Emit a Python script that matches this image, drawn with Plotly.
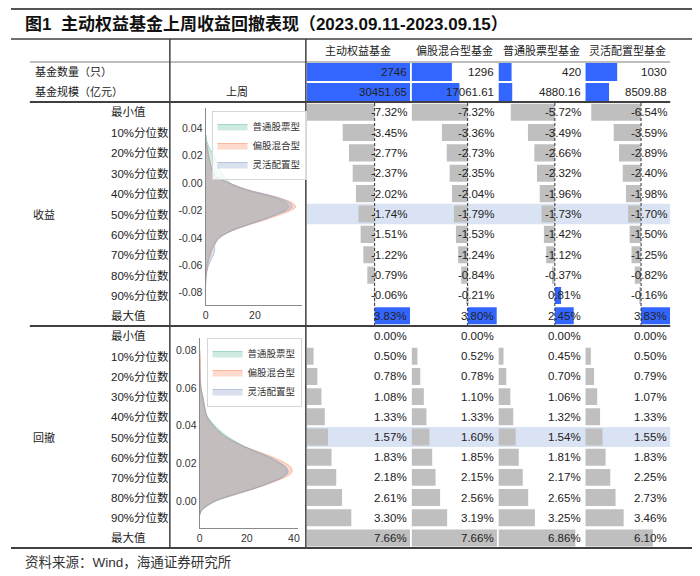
import plotly.graph_objects as go

# the page puts the figure 8px from the window's top-left corner
OFF = 8
W, H = 692, 568

# ---------------- data ----------------
funds = ['主动权益基金', '偏股混合型基金', '普通股票型基金', '灵活配置型基金']
fund_count = [2746, 1296, 420, 1030]
fund_size = [30451.65, 17061.61, 4880.16, 8509.88]
stat_rows = ['最小值', '10%分位数', '20%分位数', '30%分位数', '40%分位数', '50%分位数',
             '60%分位数', '70%分位数', '80%分位数', '90%分位数', '最大值']

ret_active = [-7.32, -3.45, -2.77, -2.37, -2.02, -1.74, -1.51, -1.22, -0.79, -0.06, 3.83]
ret_mixed = [-7.32, -3.36, -2.73, -2.35, -2.04, -1.79, -1.53, -1.24, -0.84, -0.21, 3.80]
ret_stock = [-5.72, -3.49, -2.66, -2.32, -1.96, -1.73, -1.42, -1.12, -0.37, 0.81, 2.45]
ret_flex = [-6.54, -3.59, -2.89, -2.40, -1.98, -1.70, -1.50, -1.25, -0.82, -0.16, 3.83]

dd_active = [0.00, 0.50, 0.78, 1.08, 1.33, 1.57, 1.83, 2.18, 2.61, 3.30, 7.66]
dd_mixed = [0.00, 0.52, 0.78, 1.10, 1.33, 1.60, 1.85, 2.15, 2.56, 3.19, 7.66]
dd_stock = [0.00, 0.45, 0.70, 1.06, 1.32, 1.54, 1.81, 2.17, 2.65, 3.25, 6.86]
dd_flex = [0.00, 0.50, 0.79, 1.07, 1.33, 1.55, 1.83, 2.25, 2.73, 3.46, 6.10]

kde_names = ['普通股票型', '偏股混合型', '灵活配置型']

ret_grid = [0.035, 0.03, 0.025, 0.02, 0.015, 0.01, 0.005, 0.0, -0.005, -0.0075, -0.01,
            -0.0125, -0.015, -0.0175, -0.02, -0.0225, -0.025, -0.0275, -0.03, -0.035,
            -0.04, -0.045, -0.05, -0.055, -0.06, -0.065, -0.07, -0.075]
ret_kde_stock = [0.2, 0.6, 1.7, 3.2, 4.5, 5.6, 7.6, 10.0, 16.0, 21.0, 26.5, 30.5, 33.0,
                 33.5, 32.0, 29.0, 25.5, 21.5, 17.5, 10.0, 5.2, 3.2, 2.0, 1.2, 0.6, 0.3, 0.1, 0.0]
ret_kde_mixed = [0.0, 0.2, 0.8, 1.2, 1.8, 2.5, 4.0, 9.5, 17.0, 22.5, 28.0, 32.5, 35.5,
                 36.5, 34.5, 31.0, 27.0, 23.0, 18.5, 10.5, 5.5, 3.5, 2.4, 1.5, 0.9, 0.4, 0.1, 0.0]
ret_kde_flex = [0.0, 0.2, 0.8, 1.2, 1.8, 2.6, 4.2, 9.5, 17.0, 22.5, 28.0, 32.0, 34.5,
                35.0, 33.0, 29.5, 26.0, 22.0, 18.0, 10.5, 5.8, 3.8, 3.6, 2.5, 1.2, 0.5, 0.1, 0.0]

dd_grid = [-0.0075, -0.005, -0.0025, 0.0, 0.0025, 0.005, 0.0075, 0.01, 0.0125, 0.015,
           0.0175, 0.02, 0.0225, 0.025, 0.0275, 0.03, 0.035, 0.04, 0.045, 0.05, 0.055,
           0.06, 0.065, 0.07, 0.075, 0.08]
dd_kde_stock = [0.0, 1.0, 3.5, 7.0, 13.0, 19.5, 25.5, 30.5, 35.0, 37.0, 36.5, 34.0, 30.5,
                26.0, 21.5, 17.5, 11.0, 6.5, 3.2, 2.0, 1.3, 0.5, 0.2, 0.1, 0.0, 0.0]
dd_kde_mixed = [0.0, 0.8, 3.0, 6.5, 12.5, 19.0, 25.5, 31.0, 36.0, 39.0, 39.0, 36.5, 32.5,
                27.5, 22.0, 17.0, 10.0, 5.5, 3.0, 2.0, 1.3, 0.6, 0.4, 0.3, 0.3, 0.1]
dd_kde_flex = [0.0, 0.8, 3.0, 6.5, 12.0, 18.5, 25.0, 30.5, 35.0, 37.5, 37.0, 34.5, 31.0,
               26.5, 21.5, 17.0, 10.0, 6.0, 3.2, 2.2, 1.5, 0.6, 0.2, 0.1, 0.0, 0.0]

ret_ticks = [0.04, 0.02, 0.00, -0.02, -0.04, -0.06, -0.08]
dd_ticks = [0.08, 0.06, 0.04, 0.02, 0.00]
ret_xticks = [0, 20]
dd_xticks = [0, 20, 40]

# ---------------- style ----------------
FONT = 'Liberation Sans, Noto Sans CJK SC'
BLUE = '#3366ff'
GRAY = '#bfbfbf'
BAND = '#dae3f3'
LINE = '#404040'
TXT = '#222222'
KDE_COLORS = [(102, 194, 165), (252, 141, 98), (141, 160, 203)]

COLS = [(306, 410), (411.5, 497.5), (499, 585.5), (586.5, 672)]
SECT = {'count': (62, 82), 'size': (82, 102), 'ret': (102, 326), 'dd': (326, 548)}


def px(x):
    return (x - OFF) / W


def py(y):
    return 1 - (y - OFF) / H


def xd(a, b):
    return [px(a), px(b)]


def yd(top, bottom):
    return [py(bottom), py(top)]


def ax(k):
    return ('x' if k == 1 else f'x{k}'), ('y' if k == 1 else f'y{k}')


def lk(k):
    return ('xaxis' if k == 1 else f'xaxis{k}'), ('yaxis' if k == 1 else f'yaxis{k}')


fig = go.Figure()
layout = {}
annotations = []
shapes = []

ret_cols = [ret_active, ret_mixed, ret_stock, ret_flex]
dd_cols = [dd_active, dd_mixed, dd_stock, dd_flex]
ret_all = ret_active + ret_mixed + ret_stock + ret_flex
dd_all = dd_active + dd_mixed + dd_stock + dd_flex

sections = ['count', 'size', 'ret', 'dd']
first_axis = {}
k = 0
for sec in sections:
    for c in range(4):
        k += 1
        xn, yn = ax(k)
        xl, yl = lk(k)
        if c == 0:
            first_axis[sec] = k
        top, bot = SECT[sec]
        if sec == 'count':
            cats = ['基金数量（只）']
            vals = [fund_count[c]]
            rng = [0, max(fund_count)]
            colors = [BLUE]
            labels = [f'{v:d}' for v in vals]
            bw = 0.9
        elif sec == 'size':
            cats = ['基金规模（亿元）']
            vals = [fund_size[c]]
            rng = [0, max(fund_size)]
            colors = [BLUE]
            labels = [f'{v:.2f}' for v in vals]
            bw = 0.9
        elif sec == 'ret':
            cats = stat_rows
            vals = ret_cols[c]
            rng = [min(ret_all), max(ret_all)]
            colors = [BLUE if v > 0 else GRAY for v in vals]
            labels = [f'{v:.2f}%' for v in vals]
            bw = 0.84
        else:
            cats = stat_rows
            vals = dd_cols[c]
            rng = [0, max(dd_all)]
            colors = [GRAY for v in vals]
            labels = [f'{v:.2f}%' for v in vals]
            bw = 0.84
        fig.add_trace(go.Bar(x=vals, y=cats, orientation='h', marker=dict(color=colors, line=dict(width=0)),
                             width=bw, xaxis=xn, yaxis=yn, showlegend=False, hoverinfo='skip'))
        layout[xl] = dict(domain=xd(*COLS[c]), range=rng, visible=False, anchor=yn, fixedrange=True)
        layout[yl] = dict(domain=yd(top, bot), type='category', categoryorder='array', categoryarray=cats,
                          range=[len(cats) - 0.5, -0.5], visible=False, anchor=xn, fixedrange=True)
        for cat, lab in zip(cats, labels):
            annotations.append(dict(x=0.985, xref=f'{xn} domain', y=cat, yref=yn, text=lab,
                                    xanchor='right', yanchor='middle', showarrow=False,
                                    font=dict(family=FONT, size=11.5, color=TXT)))
        if sec == 'ret':
            shapes.append(dict(type='line', xref=xn, x0=0, x1=0, yref=f'{yn} domain', y0=0, y1=1,
                               line=dict(color='#333333', width=1, dash='3px,2px'), layer='above'))
        if sec in ('ret', 'dd') and c == 0:
            mid = stat_rows.index('50%分位数')
            shapes.append(dict(type='rect', xref='paper', x0=px(306), x1=px(672), yref=yn,
                               y0=mid - 0.5, y1=mid + 0.5, fillcolor=BAND, line=dict(width=0),
                               layer='below'))

# header labels
for c, name in enumerate(funds):
    xn, _ = ax(c + 1)
    annotations.append(dict(x=0.5, xref=f'{xn} domain', y=py(51), yref='paper', text=name,
                            xanchor='center', yanchor='middle', showarrow=False,
                            font=dict(family=FONT, size=11, color=TXT)))

# row labels
_, y_cnt = ax(first_axis['count'])
_, y_size = ax(first_axis['size'])
annotations.append(dict(x=px(30), xref='paper', y='基金数量（只）', yref=y_cnt, text='基金数量（只）',
                        xanchor='left', yanchor='middle', showarrow=False,
                        font=dict(family=FONT, size=11, color=TXT)))
annotations.append(dict(x=px(30), xref='paper', y='基金规模（亿元）', yref=y_size, text='基金规模（亿元）',
                        xanchor='left', yanchor='middle', showarrow=False,
                        font=dict(family=FONT, size=11, color=TXT)))
annotations.append(dict(x=px(236), xref='paper', y='基金规模（亿元）', yref=y_size, text='上周',
                        xanchor='center', yanchor='middle', showarrow=False,
                        font=dict(family=FONT, size=11, color=TXT)))
for sec, sec_name in (('ret', '收益'), ('dd', '回撤')):
    _, yn = ax(first_axis[sec])
    for r in stat_rows:
        annotations.append(dict(x=px(107), xref='paper', y=r, yref=yn, text=r, xanchor='left',
                                yanchor='middle', showarrow=False,
                                font=dict(family=FONT, size=11.5, color=TXT)))
    annotations.append(dict(x=px(28), xref='paper', y=0.5, yref=f'{yn} domain', text=sec_name,
                            xanchor='left', yanchor='middle', showarrow=False,
                            font=dict(family=FONT, size=11, color=TXT)))

# density plots
kde_sets = [
    (17, ret_grid, [ret_kde_stock, ret_kde_mixed, ret_kde_flex], 'legend'),
    (18, dd_grid, [dd_kde_stock, dd_kde_mixed, dd_kde_flex], 'legend2'),
]
for kk, grid, series, leg in kde_sets:
    xn, yn = ax(kk)
    for name, vals, col in zip(kde_names, series, KDE_COLORS):
        r, g, b = col
        fig.add_trace(go.Scatter(x=vals, y=grid, mode='lines', fill='tozerox', name=name,
                                 line=dict(color=f'rgba({r},{g},{b},0.55)', width=1, shape='spline'),
                                 fillcolor=f'rgba({r},{g},{b},0.32)', xaxis=xn, yaxis=yn,
                                 legend=leg, hoverinfo='skip'))

axis_style = dict(showgrid=False, zeroline=False, showline=True, linecolor='#8a8a8a', linewidth=1,
                  ticks='', fixedrange=True, tickfont=dict(family=FONT, size=10.5, color='#333333'))
xl, yl = lk(17)
layout[xl] = dict(domain=xd(204, 301), range=[0, 39], tickvals=ret_xticks,
                  ticktext=[str(v) for v in ret_xticks], anchor='y17', **axis_style)
layout[yl] = dict(domain=yd(108, 305), range=[-0.089, 0.0547], tickvals=ret_ticks,
                  ticktext=[f'{v:.2f}' for v in ret_ticks], anchor='x17', **axis_style)
xl, yl = lk(18)
layout[xl] = dict(domain=xd(198, 297), range=[0, 41.7], tickvals=dd_xticks,
                  ticktext=[str(v) for v in dd_xticks], anchor='y18', **axis_style)
layout[yl] = dict(domain=yd(338, 528), range=[-0.0144, 0.0867], tickvals=dd_ticks,
                  ticktext=[f'{v:.2f}' for v in dd_ticks], anchor='x18', **axis_style)

legend_style = dict(xref='paper', yref='paper', xanchor='left', yanchor='top',
                    bgcolor='rgba(255,255,255,0.8)', bordercolor='#d6d6d6', borderwidth=1,
                    font=dict(family=FONT, size=9.5, color='#333333'), itemwidth=30,
                    tracegroupgap=0)
layout['legend'] = dict(x=px(210), y=py(111), **legend_style)
layout['legend2'] = dict(x=px(205), y=py(338), **legend_style)


# frame lines
def hline(y, x0, x1, w, color=LINE):
    shapes.append(dict(type='line', xref='paper', yref='paper', x0=px(x0), x1=px(x1),
                       y0=py(y), y1=py(y), line=dict(color=color, width=w), layer='above'))


def vline(x, y0, y1, w, color=LINE):
    shapes.append(dict(type='line', xref='paper', yref='paper', x0=px(x), x1=px(x),
                       y0=py(y0), y1=py(y1), line=dict(color=color, width=w), layer='above'))


hline(9, 8, 697, 2, '#555555')
hline(39, 8, 697, 1.5)
hline(62, 27, 672, 1, '#7f7f7f')
hline(102, 27, 672, 2)
hline(326, 27, 672, 2)
hline(548, 8, 697, 2)
vline(168, 39, 548, 1.5)
vline(305, 39, 548, 1.5)

# title and source
annotations.append(dict(x=px(20), y=py(24), xref='paper', yref='paper', xanchor='left',
                        yanchor='middle', showarrow=False,
                        text='<b>图1  主动权益基金上周收益回撤表现（2023.09.11-2023.09.15）</b>',
                        font=dict(family=FONT, size=17, color='#111111')))
annotations.append(dict(x=px(20), y=py(562), xref='paper', yref='paper', xanchor='left',
                        yanchor='middle', showarrow=False, text='资料来源：Wind，海通证券研究所',
                        font=dict(family=FONT, size=13.5, color='#333333')))

fig.update_layout(width=W, height=H, margin=dict(l=0, r=0, t=0, b=0),
                  paper_bgcolor='white', plot_bgcolor='rgba(0,0,0,0)',
                  annotations=annotations, shapes=shapes, **layout)

fig.write_html('out.html', config={'displayModeBar': False})
